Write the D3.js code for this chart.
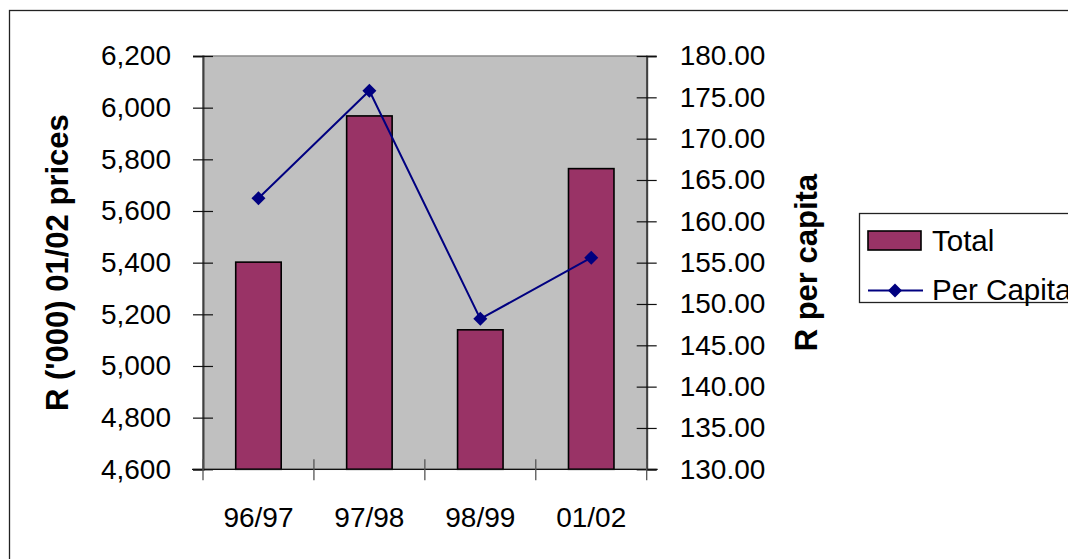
<!DOCTYPE html>
<html>
<head>
<meta charset="utf-8">
<script src="https://cdn.jsdelivr.net/npm/d3@7"></script>
<style>
  body { margin: 0; background: #fff; }
  svg { font-family: "Liberation Sans", Arial, sans-serif; }
</style>
</head>
<body>
<svg id="svgRoot" width="1068" height="559"></svg>
<script>
// data
const years = ["96/97", "97/98", "98/99", "01/02"]
const total = [5402, 5968, 5140, 5764]
const perCapita = [162.8, 175.8, 148.2, 155.6]
const leftTicks = [4600, 4800, 5000, 5200, 5400, 5600, 5800, 6000, 6200]
const rightTicks = [130, 135, 140, 145, 150, 155, 160, 165, 170, 175, 180]

const svg = d3.select("#svgRoot")

const margin = { top: 56, left: 203 }
const plotBottom = 469.3
const plotRight = 646.7

// outer chart border
svg.append("rect")
  .attr("x", 9.5).attr("y", 10.5)
  .attr("width", 1100).attr("height", 600)
  .attr("fill", "#fff").attr("stroke", "#222").attr("stroke-width", 1.3)

let scale_x = d3.scaleBand()
  .domain(years)
  .range([margin.left, plotRight])
  .padding(0)

let scale_y = d3.scaleLinear()
  .domain([4600, 6200])
  .range([plotBottom, margin.top])

let scale_y2 = d3.scaleLinear()
  .domain([130, 180])
  .range([plotBottom, margin.top])

// plot area
svg.append("rect")
  .attr("x", margin.left).attr("y", margin.top)
  .attr("width", plotRight - margin.left).attr("height", plotBottom - margin.top)
  .attr("fill", "#c0c0c0").attr("stroke", "#8a8a8a").attr("stroke-width", 1.5)

// bars
const barW = scale_x.bandwidth() * 0.41
svg.append("g").selectAll(".bar").data(total)
  .enter().append("rect")
  .attr("class", "bar")
  .attr("x", (d, i) => scale_x(years[i]) + scale_x.bandwidth() / 2 - barW / 2)
  .attr("y", d => scale_y(d))
  .attr("width", barW)
  .attr("height", d => scale_y(4600) - scale_y(d))
  .attr("fill", "#993366").attr("stroke", "#000").attr("stroke-width", 1.6)

// left axis
let g_yAxis = svg.append("g")
  .attr("transform", "translate(" + margin.left + ",0)")
  .call(d3.axisLeft(scale_y).tickValues(leftTicks).tickFormat(d3.format(",")).tickSize(10).tickPadding(22))
g_yAxis.select(".domain").attr("stroke", "#404040").attr("stroke-width", 2)
g_yAxis.selectAll(".tick line").attr("x1", 10).attr("stroke", "#111").attr("stroke-width", 1.2)
g_yAxis.selectAll(".tick text").attr("font-size", 28).attr("fill", "#000")
  .attr("font-family", "Liberation Sans, Arial, sans-serif")

// right axis
let g_yAxis2 = svg.append("g")
  .attr("transform", "translate(" + plotRight + ",0)")
  .call(d3.axisRight(scale_y2).tickValues(rightTicks).tickFormat(d3.format(".2f")).tickSize(10).tickPadding(23))
g_yAxis2.select(".domain").attr("stroke", "#404040").attr("stroke-width", 2)
g_yAxis2.selectAll(".tick line").attr("x1", -10).attr("stroke", "#111").attr("stroke-width", 1.2)
g_yAxis2.selectAll(".tick text").attr("font-size", 28).attr("fill", "#000")
  .attr("font-family", "Liberation Sans, Arial, sans-serif")

// bottom axis, ticks sit between categories
let g_xAxis = svg.append("g")
  .attr("transform", "translate(0," + plotBottom + ")")
g_xAxis.append("line")
  .attr("x1", margin.left - 11).attr("x2", plotRight + 11)
  .attr("stroke", "#111").attr("stroke-width", 1.3)
const bounds = years.map(d => scale_x(d)).concat([plotRight])
g_xAxis.selectAll(".xtick").data(bounds).enter().append("line")
  .attr("x1", d => d).attr("x2", d => d)
  .attr("y1", -10).attr("y2", 11)
  .attr("stroke", "#555").attr("stroke-width", 1.3)
g_xAxis.selectAll(".xlab").data(years).enter().append("text")
  .attr("x", d => scale_x(d) + scale_x.bandwidth() / 2)
  .attr("y", 58)
  .attr("text-anchor", "middle")
  .attr("font-size", 28)
  .text(d => d)

// per capita line
const line = d3.line()
  .x((d, i) => scale_x(years[i]) + scale_x.bandwidth() / 2)
  .y(d => scale_y2(d))
svg.append("path")
  .datum(perCapita)
  .attr("d", line)
  .attr("fill", "none").attr("stroke", "#000080").attr("stroke-width", 2)

const diamond = "M0,-7L7,0L0,7L-7,0Z"
svg.append("g").selectAll(".pt").data(perCapita)
  .enter().append("path")
  .attr("d", diamond)
  .attr("transform", (d, i) => "translate(" + (scale_x(years[i]) + scale_x.bandwidth() / 2) + "," + scale_y2(d) + ")")
  .attr("fill", "#000080")

// axis titles
svg.append("text")
  .attr("transform", "translate(68," + ((margin.top + plotBottom) / 2) + ") rotate(-90)")
  .attr("text-anchor", "middle")
  .attr("font-size", 31).attr("font-weight", "bold")
  .text("R ('000) 01/02 prices")

svg.append("text")
  .attr("transform", "translate(817," + ((margin.top + plotBottom) / 2) + ") rotate(-90)")
  .attr("text-anchor", "middle")
  .attr("font-size", 31).attr("font-weight", "bold")
  .text("R per capita")

// legend
let legend = svg.append("g")
legend.append("rect")
  .attr("x", 859.5).attr("y", 213.5).attr("width", 260).attr("height", 89)
  .attr("fill", "#fff").attr("stroke", "#222").attr("stroke-width", 1.3)
legend.append("rect")
  .attr("x", 868).attr("y", 231).attr("width", 53).attr("height", 19)
  .attr("fill", "#993366").attr("stroke", "#000").attr("stroke-width", 1.6)
legend.append("text").attr("x", 932).attr("y", 251).attr("font-size", 29.5).text("Total")
legend.append("line")
  .attr("x1", 868).attr("x2", 923).attr("y1", 290.5).attr("y2", 290.5)
  .attr("stroke", "#000080").attr("stroke-width", 2)
legend.append("path")
  .attr("d", diamond)
  .attr("transform", "translate(895,290.5)")
  .attr("fill", "#000080")
legend.append("text").attr("x", 932).attr("y", 300).attr("font-size", 29.5).text("Per Capita")
</script>
</body>
</html>
